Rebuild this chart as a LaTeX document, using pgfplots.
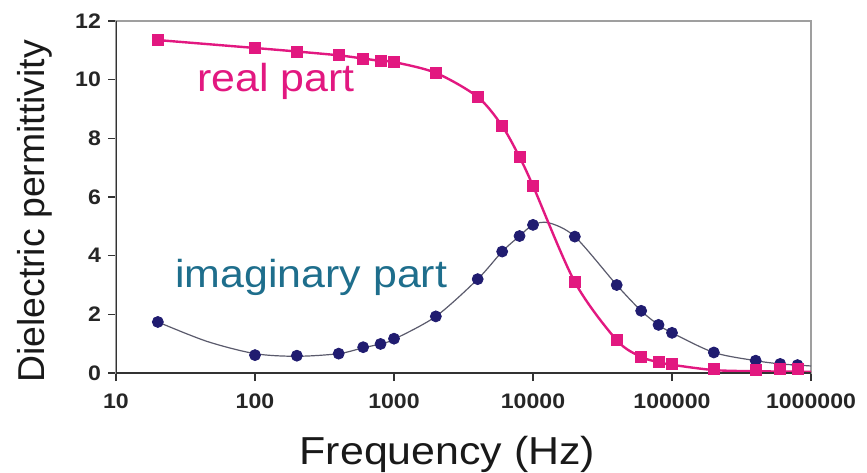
\documentclass[border=0pt]{standalone}
\usepackage{pgfplots}
\pgfplotsset{compat=1.18}
\usepackage{pgfplotstable}
\usepackage{fontspec}
\setmainfont{Liberation Sans}[FakeStretch=1.1]
\newfontfamily\plainfont{Liberation Sans}

\definecolor{realpink}{RGB}{226,24,128}
\definecolor{navydot}{RGB}{32,28,112}
\definecolor{imagline}{RGB}{90,90,108}
\definecolor{tealtext}{RGB}{30,110,140}

% measured points
\pgfplotstableread{
f eps
20 11.35
100 11.08
200 10.96
400 10.83
600 10.72
800 10.64
1000 10.60
2000 10.23
4000 9.41
6000 8.42
8000 7.36
10000 6.38
20000 3.10
40000 1.12
60000 0.55
80000 0.39
100000 0.31
200000 0.14
400000 0.12
600000 0.13
800000 0.13
}\realdata

% fitted curve
\pgfplotstableread{
f eps
20 11.35
100 11.08
200 10.96
400 10.83
600 10.72
800 10.64
1000 10.60
2000 10.23
4000 9.41
6000 8.42
8000 7.36
10000 6.38
20000 3.10
40000 1.12
60000 0.55
80000 0.37
100000 0.28
200000 0.10
400000 0.06
1000000 0.04
}\realline

\pgfplotstableread{
f eps
20 1.74
100 0.61
200 0.59
400 0.66
600 0.88
800 0.99
1000 1.17
2000 1.93
4000 3.20
6000 4.14
8000 4.67
10000 5.05
20000 4.65
40000 3.00
60000 2.12
80000 1.64
100000 1.37
200000 0.70
400000 0.42
600000 0.31
800000 0.27
}\imagdata

\pgfplotstableread{
f eps
20 1.74
45 1.08
100 0.66
200 0.57
400 0.66
600 0.86
800 0.99
1000 1.15
2000 1.93
4000 3.20
6000 4.14
8000 4.67
10000 5.05
13000 5.12
20000 4.65
40000 3.00
60000 2.12
80000 1.64
100000 1.37
200000 0.70
400000 0.42
600000 0.31
800000 0.27
1000000 0.24
}\imagline

\begin{document}
\begin{tikzpicture}
\begin{axis}[
  scale only axis,
  width=347.5pt, height=176pt,
  xmode=log, xmin=10, xmax=1000000,
  ymin=0, ymax=12,
  xtick={10,100,1000,10000,100000,1000000},
  xticklabels={10,100,1000,10000,100000,1000000},
  ytick={0,2,4,6,8,10,12},
  yticklabels={0,2,4,6,8,10,12},
  xminorticks=false,
  tick align=outside,
  major tick length=4pt,
  xtick pos=bottom, ytick pos=left,
  tick style={black!80, line width=0.8pt},
  ticklabel style={font=\fontsize{10.5}{12}\selectfont\bfseries, text=black!85},
  xticklabel style={yshift=-3pt},
  axis line style={draw=gray!75, line width=0.8pt},
  xlabel={Frequency (Hz)},
  ylabel={Dielectric permittivity},
  xlabel style={font=\fontsize{19.5}{22}\selectfont, text=black!90,
    at={(axis description cs:0.477,-0.261)}, anchor=base},
  ylabel style={font=\plainfont\fontsize{18.7}{22}\selectfont, text=black!90,
    at={(axis description cs:-0.1022,0.459)}, anchor=base},
]
\addplot[imagline, line width=0.6pt, smooth] table {\imagline};
\addplot[only marks, mark=*, mark size=2.75pt, navydot] table {\imagdata};
\addplot[realpink, line width=1.2pt, smooth] table {\realline};
\addplot[only marks, mark=square*, mark size=2.75pt, realpink] table {\realdata};

\node[anchor=base west, inner sep=0, text=realpink, font=\fontsize{19.5}{22}\selectfont] at (axis cs:38.3,9.61) {real part};
\node[anchor=base west, inner sep=0, text=tealtext, font=\fontsize{19.5}{22}\selectfont] at (axis cs:26.6,2.9) {imaginary part};

\draw[black!80, line width=0.8pt] (rel axis cs:0,1) -- (rel axis cs:0,0) -- (rel axis cs:1,0);
\end{axis}
\pgfresetboundingbox
\path ([shift={(-58pt,-49.5pt)}]current axis.south west) rectangle ([shift={(28pt,10.5pt)}]current axis.north east);
\end{tikzpicture}
\end{document}
